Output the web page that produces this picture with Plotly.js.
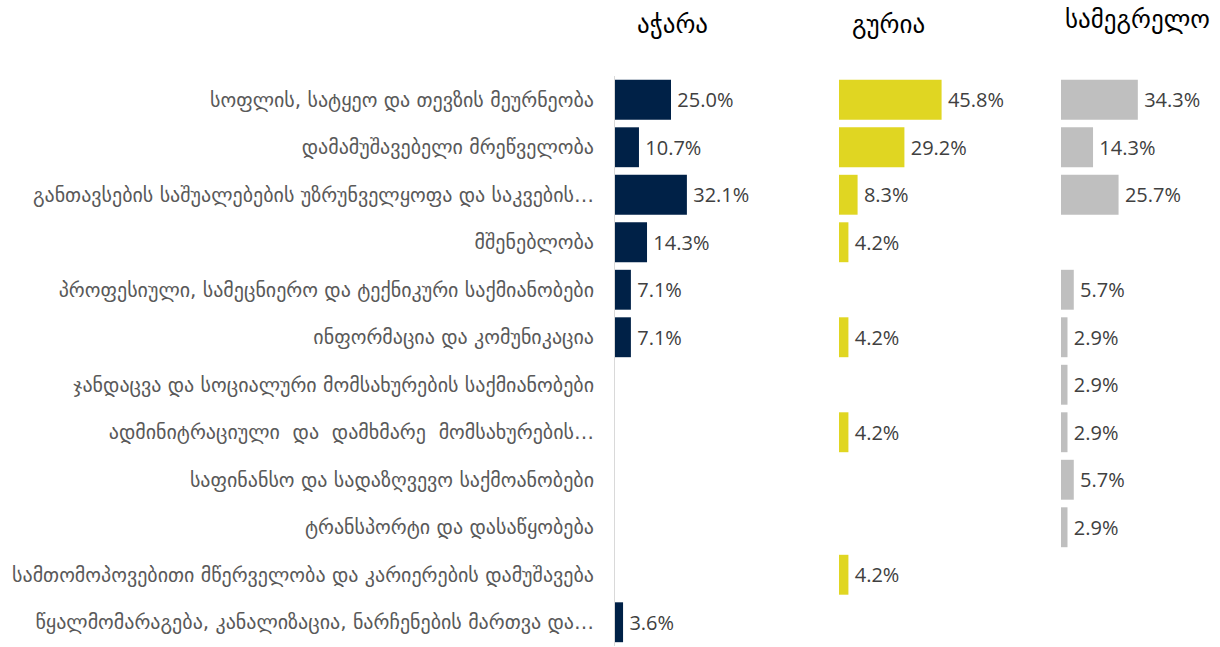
<!DOCTYPE html>
<html>
<head>
<meta charset="utf-8">
<script src="https://cdn.plot.ly/plotly-3.0.1.min.js"></script>
<style>html,body{margin:0;padding:0;background:#fff;}#chart{width:1220px;height:647px;}</style>
</head>
<body>
<div id="chart"></div>
<script>
const categories = [
  "სოფლის, სატყეო და თევზის მეურნეობა",
  "დამამუშავებელი მრეწველობა",
  "განთავსების საშუალებების უზრუნველყოფა და საკვების…",
  "მშენებლობა",
  "პროფესიული, სამეცნიერო და ტექნიკური საქმიანობები",
  "ინფორმაცია და კომუნიკაცია",
  "ჯანდაცვა და სოციალური მომსახურების საქმიანობები",
  "ადმინიტრაციული  და  დამხმარე  მომსახურების…",
  "საფინანსო და სადაზღვევო საქმოანობები",
  "ტრანსპორტი და დასაწყობება",
  "სამთომოპოვებითი მწერველობა და კარიერების დამუშავება",
  "წყალმომარაგება, კანალიზაცია, ნარჩენების მართვა და…"
];
const regions = ["აჭარა", "გურია", "სამეგრელო"];
const acharaValues = [25.0, 10.7, 32.1, 14.3, 7.1, 7.1, null, null, null, null, null, 3.6];
const guriaValues = [45.8, 29.2, 8.3, 4.2, null, 4.2, null, 4.2, null, null, 4.2, null];
const samegreloValues = [34.3, 14.3, 25.7, null, 5.7, 2.9, 2.9, 2.9, 5.7, 2.9, null, null];
const colors = ["#002147", "#E0D622", "#BFBFBF"];

const W = 1220, H = 647;
const mT = 76, mB = 1;
const pxPerPct = 2.24;
const panels = [
  {x0: 615, x1: 815, vals: acharaValues},
  {x0: 839, x1: 1039, vals: guriaValues},
  {x0: 1061, x1: 1220, vals: samegreloValues}
];

const traces = panels.map((p, i) => ({
  type: 'bar',
  orientation: 'h',
  y: categories,
  x: p.vals,
  xaxis: i === 0 ? 'x' : 'x' + (i + 1),
  yaxis: 'y',
  marker: {color: colors[i]},
  width: 0.84,
  text: p.vals.map(v => v == null ? '' : '\u2009' + v.toFixed(1) + '%'),
  textposition: 'outside',
  textfont: {family: 'Open Sans, sans-serif', size: 20, color: '#404040'},
  cliponaxis: false,
  hoverinfo: 'skip'
}));

const layout = {
  width: W, height: H,
  margin: {l: 0, r: 0, t: mT, b: mB},
  paper_bgcolor: '#fff', plot_bgcolor: 'rgba(0,0,0,0)',
  showlegend: false,
  yaxis: {
    autorange: 'reversed',
    anchor: 'x',
    tickfont: {family: 'DejaVu Sans, sans-serif', size: 20, color: '#595959'},
    ticklabelstandoff: 16,
    showgrid: false, zeroline: false,
    showline: true, linecolor: '#D9D9D9', linewidth: 1,
    ticks: '', automargin: false
  },
  annotations: []
};
panels.forEach((p, i) => {
  const key = i === 0 ? 'xaxis' : 'xaxis' + (i + 1);
  layout[key] = {
    domain: [p.x0 / W, p.x1 / W],
    range: [0, (p.x1 - p.x0) / pxPerPct],
    visible: false,
    fixedrange: true
  };
});
const titleX = [672, 888, 1137];
const titleY = [25, 25, 20];
const plotH = H - mT - mB;
regions.forEach((r, i) => {
  layout.annotations.push({
    text: r, xref: 'paper', yref: 'paper',
    x: titleX[i] / W, y: (H - mB - titleY[i]) / plotH,
    xanchor: 'center', yanchor: 'middle', showarrow: false,
    font: {family: 'DejaVu Sans, sans-serif', size: 25, color: '#000'}
  });
});

Plotly.newPlot('chart', traces, layout, {displayModeBar: false, staticPlot: true});
</script>
</body>
</html>
